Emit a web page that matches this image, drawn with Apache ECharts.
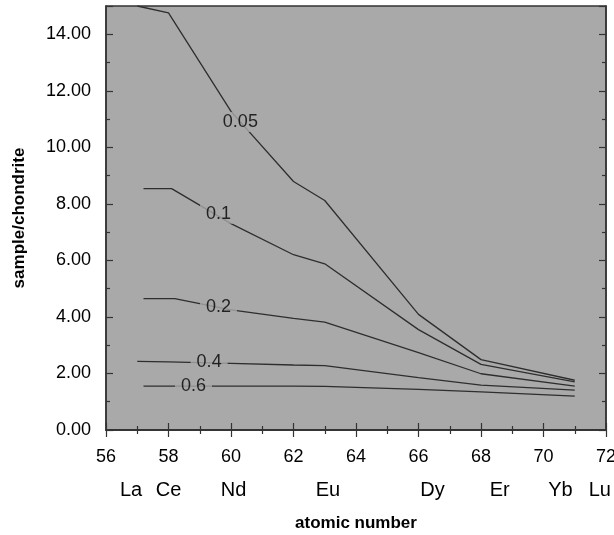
<!DOCTYPE html>
<html>
<head>
<meta charset="utf-8">
<script src="https://cdn.jsdelivr.net/npm/echarts@6/dist/echarts.min.js"></script>
<style>html,body{margin:0;padding:0;background:#fff}#c{width:614px;height:535px}</style>
</head>
<body>
<div id="c"></div>
<script>
// Contour levels and their curves (atomic number vs sample/chondrite)
const levels = ['0.05', '0.1', '0.2', '0.4', '0.6'];
const x005 = [57, 58, 60, 62, 63, 66, 68, 71];
const y005 = [15.0, 14.76, 11.27, 8.79, 8.12, 4.09, 2.49, 1.76];
const x01 = [57.2, 58.1, 60, 62, 63, 66, 68, 71];
const y01 = [8.54, 8.54, 7.3, 6.2, 5.88, 3.55, 2.32, 1.70];
const x02 = [57.2, 58.2, 60, 62, 63, 66, 68, 71];
const y02 = [4.65, 4.65, 4.25, 3.95, 3.82, 2.74, 1.99, 1.55];
const x04 = [57, 58, 60, 62, 63, 66, 68, 71];
const y04 = [2.43, 2.41, 2.36, 2.30, 2.28, 1.85, 1.59, 1.41];
const x06 = [57.2, 58, 60, 62, 63, 66, 68, 71];
const y06 = [1.55, 1.55, 1.55, 1.55, 1.54, 1.44, 1.35, 1.20];
// where the contour level labels sit
const labelX = [60.3, 59.6, 59.6, 59.3, 58.8];
const labelY = [10.9, 7.65, 4.35, 2.39, 1.56];
// element labels along the atomic number axis
const elementNames = ['La', 'Ce', 'Nd', 'Eu', 'Dy', 'Er', 'Yb', 'Lu'];
const elementPos = [56.8, 58.0, 60.08, 63.1, 66.45, 68.6, 70.54, 71.8];

const curvesX = [x005, x01, x02, x04, x06];
const curvesY = [y005, y01, y02, y04, y06];
const BG = '#a9a9a9';
const FONT = 'Liberation Sans';
const TXT = '#000';

const series = curvesX.map((xs, i) => ({
  type: 'line',
  name: levels[i],
  data: xs.map((x, j) => [x, curvesY[i][j]]),
  symbol: 'none',
  lineStyle: { color: '#2e2e2e', width: 1.3 },
  z: 2
}));
series.push({
  type: 'scatter',
  data: labelX.map((x, i) => [x, labelY[i], levels[i]]),
  symbolSize: 1,
  itemStyle: { color: 'rgba(0,0,0,0)' },
  label: {
    show: true, position: 'inside',
    formatter: p => p.data[2],
    color: TXT, fontFamily: FONT, fontSize: 18,
    backgroundColor: BG, padding: [1, 6]
  },
  z: 5
});

const elemMap = {};
elementPos.forEach((p, i) => { elemMap[p.toFixed(2)] = elementNames[i]; });

const tickCommon = { inside: true, length: 7, lineStyle: { color: '#333', width: 1.2 } };
const minorCommon = { show: true, splitNumber: 2, length: 4, lineStyle: { color: '#333', width: 1.2 } };

const option = {
  animation: false,
  backgroundColor: '#fff',
  grid: {
    left: 106, right: 8, top: 6, bottom: 105,
    outerBoundsMode: 'none', containLabel: false,
    show: true, backgroundColor: BG, borderColor: '#333', borderWidth: 1.5
  },
  xAxis: [
    {
      type: 'value', position: 'bottom', min: 56, max: 72, interval: 2,
      axisLine: { lineStyle: { color: '#333', width: 1.5 } },
      axisTick: tickCommon, minorTick: minorCommon, splitLine: { show: false },
      axisLabel: { margin: 18, color: TXT, fontFamily: FONT, fontSize: 18 }
    },
    {
      type: 'value', position: 'top', min: 56, max: 72, interval: 2,
      axisLine: { lineStyle: { color: '#333', width: 1.5 } },
      axisTick: tickCommon, minorTick: minorCommon, splitLine: { show: false },
      axisLabel: { show: false }
    },
    {
      type: 'value', position: 'bottom', min: 56, max: 72,
      axisLine: { show: false }, axisTick: { show: false }, splitLine: { show: false },
      axisLabel: {
        customValues: elementPos, margin: 50, color: TXT, fontFamily: FONT, fontSize: 20,
        formatter: v => elemMap[Number(v).toFixed(2)] || ''
      },
      name: 'atomic number', nameLocation: 'middle', nameGap: 85,
      nameTextStyle: { color: TXT, fontFamily: FONT, fontSize: 17, fontWeight: 'bold' }
    }
  ],
  yAxis: [
    {
      type: 'value', position: 'left', min: 0, max: 15, interval: 2,
      axisLine: { lineStyle: { color: '#333', width: 1.5 } },
      axisTick: tickCommon, minorTick: minorCommon, splitLine: { show: false },
      axisLabel: { margin: 15, color: TXT, fontFamily: FONT, fontSize: 18,
        showMaxLabel: false, formatter: v => v.toFixed(2) },
      name: 'sample/chondrite', nameLocation: 'middle', nameGap: 78,
      nameTextStyle: { color: TXT, fontFamily: FONT, fontSize: 17, fontWeight: 'bold' }
    },
    {
      type: 'value', position: 'right', min: 0, max: 15, interval: 2,
      axisLine: { lineStyle: { color: '#333', width: 1.5 } },
      axisTick: tickCommon, minorTick: minorCommon, splitLine: { show: false },
      axisLabel: { show: false }
    }
  ],
  series: series
};

const chart = echarts.init(document.getElementById('c'), null, { renderer: 'canvas' });
chart.setOption(option);
</script>
</body>
</html>
